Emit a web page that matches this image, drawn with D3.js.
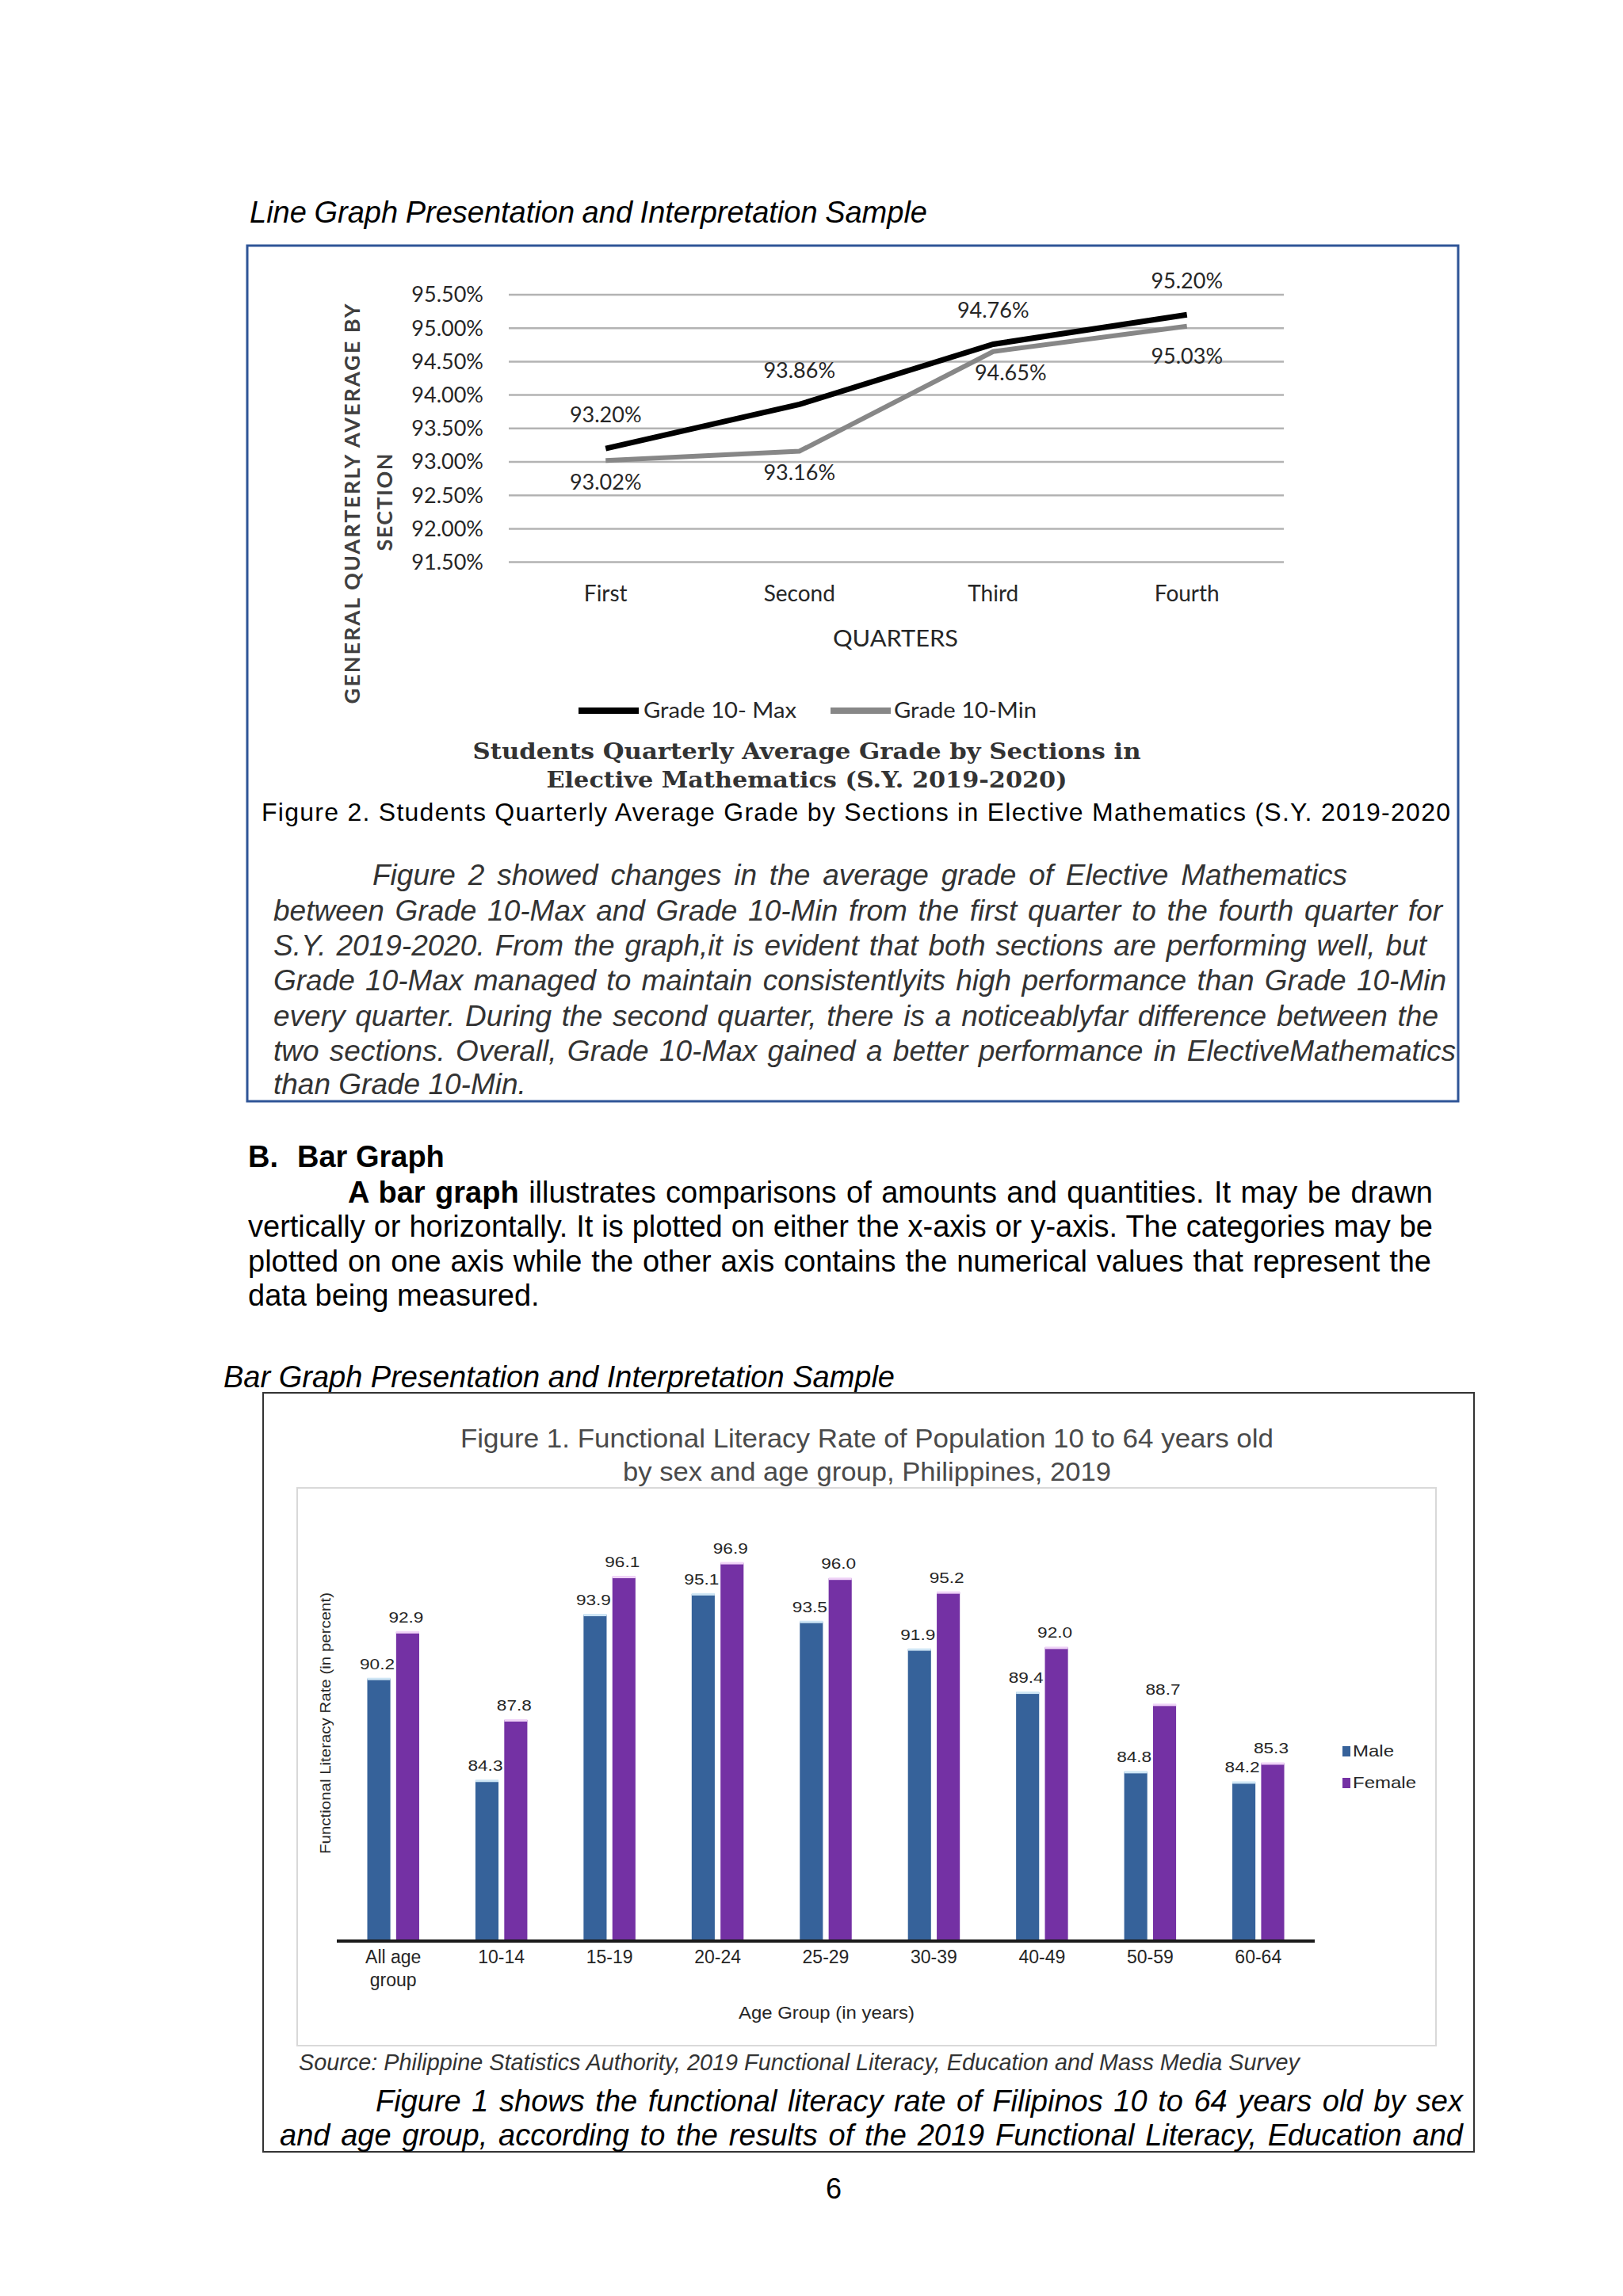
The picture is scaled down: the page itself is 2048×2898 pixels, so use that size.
<!DOCTYPE html>
<html>
<head>
<meta charset="utf-8">
<script src="https://cdn.jsdelivr.net/npm/d3@7"></script>
<style>
  body { margin: 0; background: #fff; }
  svg { display: block; }
</style>
</head>
<body>
<svg id="page" width="2048" height="2898"></svg>
<script>
// line graph data
const quarters = ['First', 'Second', 'Third', 'Fourth']
const gradeMax = [93.20, 93.86, 94.76, 95.20]
const gradeMin = [93.02, 93.16, 94.65, 95.03]
const gradeTicks = [91.5, 92, 92.5, 93, 93.5, 94, 94.5, 95, 95.5]

// bar graph data
const ageGroups = ['All age group', '10-14', '15-19', '20-24', '25-29', '30-39', '40-49', '50-59', '60-64']
const sexes = ['Male', 'Female']
const maleRate = [90.2, 84.3, 93.9, 95.1, 93.5, 91.9, 89.4, 84.8, 84.2]
const femaleRate = [92.9, 87.8, 96.1, 96.9, 96.0, 95.2, 92.0, 88.7, 85.3]

const SANS = 'Liberation Sans, Arial, sans-serif'
const LATO = 'Lato, Open Sans, sans-serif'
const SERIF = 'DejaVu Serif, Liberation Serif, serif'

const svg = d3.select('#page')
svg.append('rect').attr('width', 2048).attr('height', 2898).attr('fill', '#fff')

function txt(g, s, x, y, o = {}) {
  const t = g.append('text')
    .attr('x', x).attr('y', y)
    .attr('dy', o.dy || '0.35em')
    .attr('text-anchor', o.anchor || 'start')
    .attr('font-family', o.font || SANS)
    .attr('font-size', o.size || 38)
    .attr('font-weight', o.weight || 'normal')
    .attr('font-style', o.style || 'normal')
    .attr('fill', o.fill || '#000')
  if (s !== null) t.text(s)
  if (o.len) t.attr('textLength', o.len).attr('lengthAdjust', o.adjust || 'spacingAndGlyphs')
  return t
}

// stretch a line to a width by widening the word gaps
function spread(t, width) {
  const n = (t.text().match(/ /g) || []).length
  const w = t.node().getComputedTextLength()
  if (n) t.attr('word-spacing', (width - w) / n)
}

// ---------- page part 1 ----------
spread(txt(svg, 'Line Graph Presentation and Interpretation Sample', 315, 268, { style: 'italic' }), 855)

svg.append('rect')
  .attr('x', 312).attr('y', 310).attr('width', 1528).attr('height', 1080)
  .attr('fill', 'none').attr('stroke', '#2f5597').attr('stroke-width', 3)

// ---------- line chart ----------
const lc = svg.append('g')
const x = d3.scaleBand().domain(quarters).range([642, 1620])
const y = d3.scaleLinear().domain([91.5, 95.5]).range([709.6, 372])
const cx = q => x(q) + x.bandwidth() / 2

lc.selectAll('line.grid')
  .data(gradeTicks)
  .enter()
  .append('line')
  .attr('class', 'grid')
  .attr('x1', 642).attr('x2', 1620)
  .attr('y1', d => y(d)).attr('y2', d => y(d))
  .attr('stroke', '#b3b3b3')
  .attr('stroke-width', 2.5)

lc.selectAll('text.tick')
  .data(gradeTicks)
  .enter()
  .append('text')
  .attr('class', 'tick')
  .attr('x', 610)
  .attr('y', d => y(d))
  .attr('dy', '0.35em')
  .attr('text-anchor', 'end')
  .attr('font-family', LATO)
  .attr('font-size', 27)
  .attr('fill', '#262626')
  .text(d => d.toFixed(2) + '%')

lc.selectAll('text.cat')
  .data(quarters)
  .enter()
  .append('text')
  .attr('class', 'cat')
  .attr('x', d => cx(d))
  .attr('y', 749)
  .attr('dy', '0.35em')
  .attr('text-anchor', 'middle')
  .attr('font-family', LATO)
  .attr('font-size', 28)
  .attr('fill', '#262626')
  .text(d => d)

txt(lc, 'QUARTERS', 1130, 806, { font: LATO, size: 28, anchor: 'middle', fill: '#262626', len: 158 })

const yTitle = lc.append('g').attr('transform', 'translate(445,636) rotate(-90)')
txt(yTitle, 'GENERAL QUARTERLY AVERAGE BY', 0, 0, { font: LATO, size: 27, weight: 'bold', anchor: 'middle', fill: '#404040', len: 505, adjust: 'spacing' })
txt(yTitle, 'SECTION', 2, 41, { font: LATO, size: 27, weight: 'bold', anchor: 'middle', fill: '#404040', len: 123, adjust: 'spacing' })

const line = d3.line().x((d, i) => cx(quarters[i])).y(d => y(d))

lc.append('path')
  .datum(gradeMin)
  .attr('d', line)
  .attr('fill', 'none')
  .attr('stroke', '#878787')
  .attr('stroke-width', 6)

lc.append('path')
  .datum(gradeMax)
  .attr('d', line)
  .attr('fill', 'none')
  .attr('stroke', '#000')
  .attr('stroke-width', 7)

const minShift = [0, 0, 22, 0]
lc.selectAll('text.maxlab')
  .data(gradeMax)
  .enter()
  .append('text')
  .attr('class', 'maxlab')
  .attr('x', (d, i) => cx(quarters[i]))
  .attr('y', d => y(d) - 43)
  .attr('dy', '0.35em')
  .attr('text-anchor', 'middle')
  .attr('font-family', LATO)
  .attr('font-size', 27)
  .attr('fill', '#262626')
  .text(d => d.toFixed(2) + '%')

lc.selectAll('text.minlab')
  .data(gradeMin)
  .enter()
  .append('text')
  .attr('class', 'minlab')
  .attr('x', (d, i) => cx(quarters[i]) + minShift[i])
  .attr('y', (d, i) => y(d) + (i === 3 ? 38 : 27))
  .attr('dy', '0.35em')
  .attr('text-anchor', 'middle')
  .attr('font-family', LATO)
  .attr('font-size', 27)
  .attr('fill', '#262626')
  .text(d => d.toFixed(2) + '%')

// legend
const lg = lc.append('g')
lg.append('line').attr('x1', 730).attr('x2', 806).attr('y1', 897).attr('y2', 897).attr('stroke', '#000').attr('stroke-width', 8)
txt(lg, 'Grade 10- Max', 812, 897, { font: LATO, size: 26, fill: '#262626', len: 193 })
lg.append('line').attr('x1', 1048).attr('x2', 1124).attr('y1', 897).attr('y2', 897).attr('stroke', '#878787').attr('stroke-width', 8)
txt(lg, 'Grade 10-Min', 1128, 897, { font: LATO, size: 26, fill: '#262626', len: 180 })

txt(lc, 'Students Quarterly Average Grade by Sections in', 1018, 948, { font: SERIF, size: 28, weight: 'bold', anchor: 'middle', fill: '#333', len: 843 })
txt(lc, 'Elective Mathematics (S.Y. 2019-2020)', 1018, 984, { font: SERIF, size: 28, weight: 'bold', anchor: 'middle', fill: '#333', len: 657 })

txt(svg, 'Figure 2. Students Quarterly Average Grade by Sections in Elective Mathematics (S.Y. 2019-2020', 330, 1025, { size: 32, len: 1500, adjust: 'spacing' })

const para1 = [
  'Figure 2 showed changes in the average grade of Elective Mathematics',
  'between Grade 10-Max and Grade 10-Min from the first quarter to the fourth quarter for',
  'S.Y. 2019-2020. From the graph,it is evident that both sections are performing well, but',
  'Grade 10-Max managed to maintain consistentlyits high performance than Grade 10-Min',
  'every quarter. During the second quarter, there is a noticeablyfar difference between the',
  'two sections. Overall, Grade 10-Max gained a better performance in ElectiveMathematics',
  'than Grade 10-Min.'
]
const para1Y = [1105, 1150, 1194, 1238, 1283, 1327, 1369]
const para1X = [470, 345, 345, 345, 345, 345, 345]
const para1W = [1230, 1475, 1455, 1480, 1470, 1492, 0]
para1.forEach((s, i) => {
  const t = txt(svg, s, para1X[i], para1Y[i], { style: 'italic', size: 37, fill: '#333', dy: '0.33em' })
  if (para1W[i]) spread(t, para1W[i])
})

// ---------- section B ----------
txt(svg, 'B.', 313, 1460, { weight: 'bold', size: 38, dy: '0.33em' })
txt(svg, 'Bar Graph', 375, 1460, { weight: 'bold', size: 38, dy: '0.33em' })

const b1 = txt(svg, null, 439, 1505, { size: 38, dy: '0.33em' })
b1.append('tspan').attr('font-weight', 'bold').text('A bar graph')
b1.append('tspan').text(' illustrates comparisons of amounts and quantities. It may be drawn')
spread(b1, 1808 - 439)
spread(txt(svg, 'vertically or horizontally. It is plotted on either the x-axis or y-axis. The categories may be', 313, 1548, { size: 38, dy: '0.33em' }), 1495)
spread(txt(svg, 'plotted on one axis while the other axis contains the numerical values that represent the', 313, 1592, { size: 38, dy: '0.33em' }), 1493)
txt(svg, 'data being measured.', 313, 1635, { size: 38, dy: '0.33em' })

spread(txt(svg, 'Bar Graph Presentation and Interpretation Sample', 282, 1738, { style: 'italic', size: 38, dy: '0.33em' }), 847)

svg.append('rect')
  .attr('x', 332).attr('y', 1758).attr('width', 1528).attr('height', 958)
  .attr('fill', 'none').attr('stroke', '#333').attr('stroke-width', 2)

// ---------- bar chart ----------
const bc = svg.append('g')
bc.append('rect')
  .attr('x', 375).attr('y', 1878).attr('width', 1437).attr('height', 704)
  .attr('fill', 'none').attr('stroke', '#d9d9d9').attr('stroke-width', 2)

txt(bc, 'Figure 1. Functional Literacy Rate of Population 10 to 64 years old', 1094, 1815, { size: 33, anchor: 'middle', fill: '#4a4a4a', len: 1026 })
txt(bc, 'by sex and age group, Philippines, 2019', 1094, 1857, { size: 33, anchor: 'middle', fill: '#4a4a4a', len: 616 })

const x0 = d3.scaleBand().domain(ageGroups).range([428, 1656]).paddingInner(0.52).paddingOuter(0.26)
const x1 = d3.scaleBand().domain(sexes).range([0, x0.bandwidth()]).paddingInner(0.2)
const yb = d3.scaleLinear().domain([75, 100]).range([2450, 1905])
const colors = { Male: '#36629a', Female: '#7431a4' }
const tops = { Male: '#cfe6f5', Female: '#efd3f7' }

const rows = ageGroups.map((g, i) => ({ group: g, values: [
  { sex: 'Male', v: maleRate[i] },
  { sex: 'Female', v: femaleRate[i] }
] }))

const groups = bc.selectAll('g.grp')
  .data(rows)
  .enter()
  .append('g')
  .attr('class', 'grp')
  .attr('transform', d => `translate(${x0(d.group)},0)`)

const bars = groups.selectAll('g.bar')
  .data(d => d.values)
  .enter()
  .append('g')
  .attr('class', 'bar')

bars.append('rect')
  .attr('x', d => x1(d.sex))
  .attr('y', d => yb(d.v))
  .attr('width', x1.bandwidth())
  .attr('height', d => yb(75) - yb(d.v))
  .attr('fill', d => colors[d.sex])

bars.append('rect')
  .attr('x', d => x1(d.sex))
  .attr('y', d => yb(d.v) - 1)
  .attr('width', x1.bandwidth())
  .attr('height', 3)
  .attr('fill', d => tops[d.sex])

bars.append('text')
  .attr('x', d => x1(d.sex) + x1.bandwidth() / 2 - 2)
  .attr('y', d => yb(d.v) - 12)
  .attr('text-anchor', 'middle')
  .attr('font-family', SANS)
  .attr('font-size', 18)
  .attr('fill', '#262626')
  .attr('textLength', 44)
  .attr('lengthAdjust', 'spacingAndGlyphs')
  .text(d => d.v.toFixed(1))

const xAxis = bc.append('g')
  .attr('transform', 'translate(0,2450)')
  .call(d3.axisBottom(x0).tickSize(0).tickFormat(''))
xAxis.select('.domain').attr('stroke', '#1a1a1a').attr('stroke-width', 4)
  .attr('d', 'M425,0H1659')

bc.selectAll('text.age')
  .data(ageGroups)
  .enter()
  .append('text')
  .attr('class', 'age')
  .attr('x', d => x0(d) + x0.bandwidth() / 2)
  .attr('y', 2478)
  .attr('dy', '0.35em')
  .attr('text-anchor', 'middle')
  .attr('font-family', SANS)
  .attr('font-size', 23)
  .attr('fill', '#262626')
  .each(function (d) {
    const parts = d === 'All age group' ? ['All age', 'group'] : [d]
    parts.forEach((p, k) => {
      d3.select(this).append('tspan')
        .attr('x', x0(d) + x0.bandwidth() / 2)
        .attr('dy', k ? '1.25em' : 0)
        .text(p)
    })
  })

txt(bc, 'Age Group (in years)', 1043, 2540, { size: 22, anchor: 'middle', fill: '#262626', len: 222 })

const yl = bc.append('g').attr('transform', 'translate(410,2175) rotate(-90)')
txt(yl, 'Functional Literacy Rate (in percent)', 0, 0, { size: 19, anchor: 'middle', fill: '#262626', len: 330 })

sexes.forEach((s, i) => {
  const ly = 2210 + i * 40
  bc.append('rect').attr('x', 1694).attr('y', ly - 6).attr('width', 10).attr('height', 13).attr('fill', colors[s])
  txt(bc, s, 1707, ly, { size: 21, fill: '#262626', len: i ? 80 : 52 })
})

txt(svg, 'Source: Philippine Statistics Authority, 2019 Functional Literacy, Education and Mass Media Survey', 377, 2602, { size: 30, style: 'italic', fill: '#333', len: 1263 })

spread(txt(svg, 'Figure 1 shows the functional literacy rate of Filipinos 10 to 64 years old by sex', 474, 2652, { style: 'italic', size: 38, dy: '0.33em' }), 1372)
spread(txt(svg, 'and age group, according to the results of the 2019 Functional Literacy, Education and', 353, 2695, { style: 'italic', size: 38, dy: '0.33em' }), 1493)

txt(svg, '6', 1052, 2762, { size: 36, anchor: 'middle' })
</script>
</body>
</html>
